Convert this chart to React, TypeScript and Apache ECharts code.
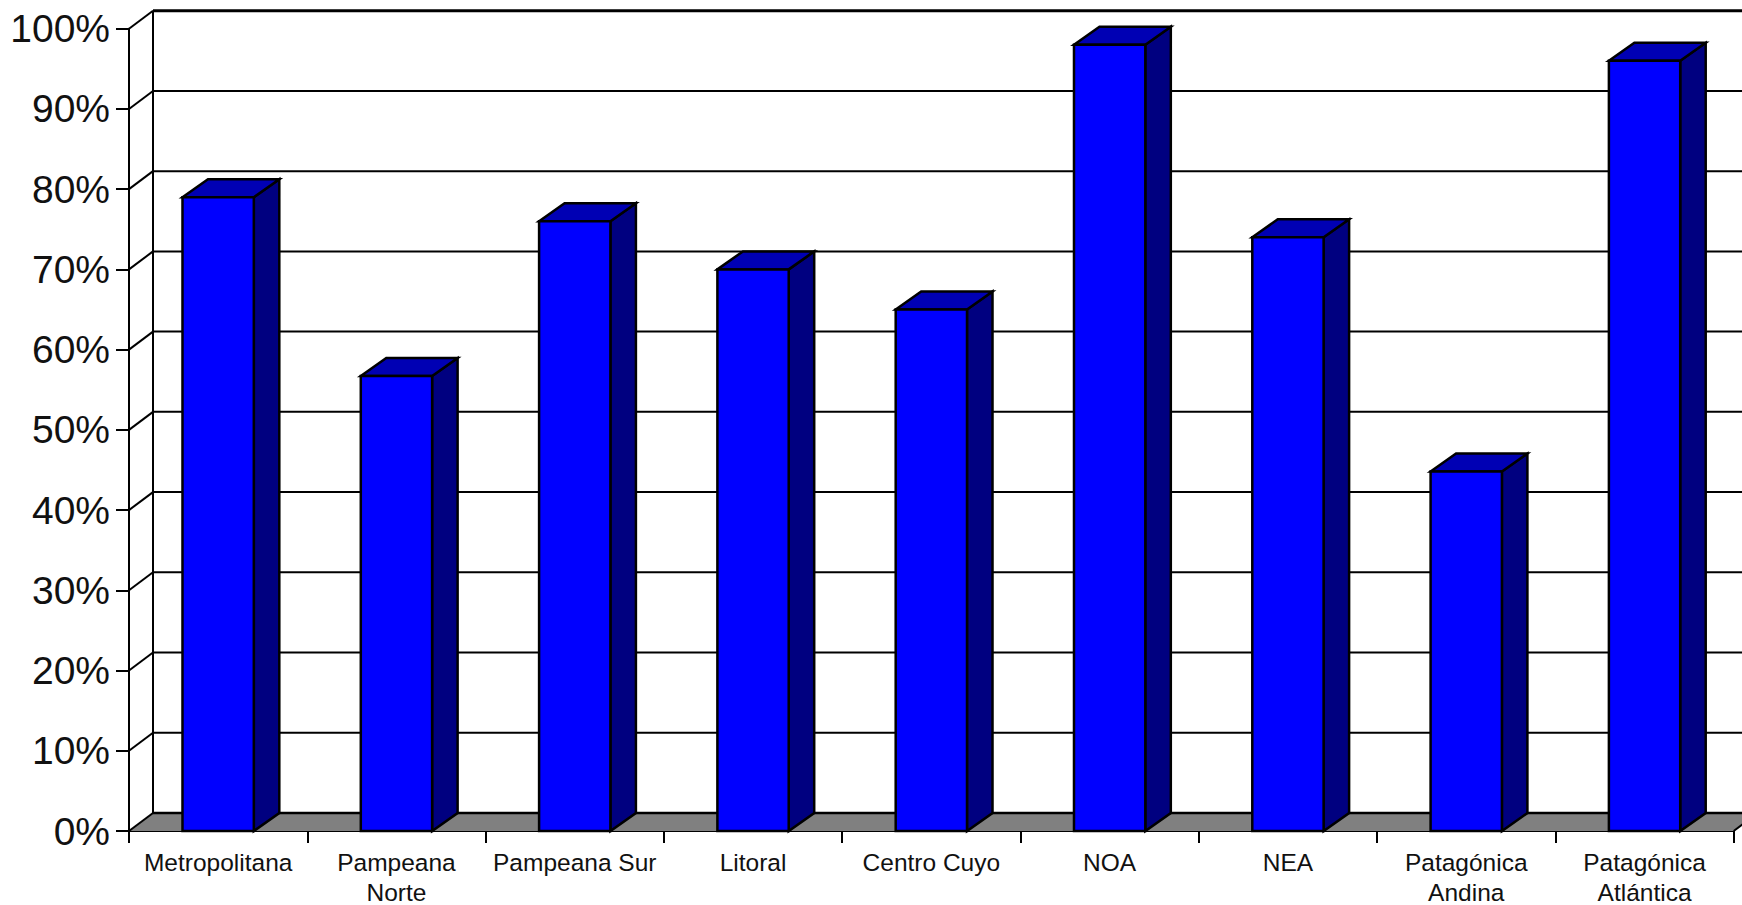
import React, { useEffect, useRef } from "react";
import * as echarts from "echarts";

const categories = [
  "Metropolitana",
  "Pampeana\nNorte",
  "Pampeana Sur",
  "Litoral",
  "Centro Cuyo",
  "NOA",
  "NEA",
  "Patagónica\nAndina",
  "Patagónica\nAtlántica",
];
const percentages = [79, 56.7, 76, 70, 65, 98, 74, 44.8, 96];
const wallTicks = [10, 20, 30, 40, 50, 60, 70, 80, 90, 100];

const DEPTH_X = 24;
const DEPTH_Y = -18;
const BAR_DEPTH_X = 25.5;
const BAR_RATIO = 0.4;
const FONT = '"Liberation Sans", Arial, sans-serif';

export default function App() {
  const ref = useRef<HTMLDivElement>(null);
  useEffect(() => {
    const chart = echarts.init(ref.current!, undefined, { renderer: "svg" });
    chart.setOption({
      animation: false,
      backgroundColor: "#ffffff",
      grid: {
        left: 129,
        top: 28.7,
        width: 1604.7,
        height: 802.3,
        containLabel: false,
        outerBoundsMode: "none",
      },
      xAxis: {
        type: "category",
        data: categories,
        boundaryGap: true,
        axisLine: { show: true, onZero: false, lineStyle: { color: "#000", width: 2 } },
        axisTick: { show: true, alignWithLabel: false, length: 12, lineStyle: { color: "#000", width: 2 } },
        axisLabel: {
          interval: 0,
          hideOverlap: false,
          color: "#111",
          fontFamily: FONT,
          fontSize: 24.5,
          lineHeight: 30,
          margin: 16,
        },
      },
      yAxis: {
        type: "value",
        min: 0,
        max: 100,
        interval: 10,
        splitLine: { show: false },
        axisLine: { show: true, lineStyle: { color: "#000", width: 2 } },
        axisTick: { show: true, length: 13, lineStyle: { color: "#000", width: 2 } },
        axisLabel: {
          formatter: "{value}%",
          color: "#111",
          fontFamily: FONT,
          fontSize: 39,
          margin: 19,
        },
      },
      series: [
        {
          type: "custom",
          name: "Piso",
          z: 1,
          silent: true,
          clip: false,
          data: [[0, 0]],
          renderItem: (params: any, api: any) => {
            const cs = params.coordSys;
            const y0 = api.coord([0, 0])[1];
            const xL = cs.x;
            const xR = cs.x + cs.width;
            return {
              type: "group",
              children: [
                {
                  type: "polygon",
                  shape: {
                    points: [
                      [xL, y0],
                      [xL + DEPTH_X, y0 + DEPTH_Y],
                      [xR + DEPTH_X, y0 + DEPTH_Y],
                      [xR, y0],
                    ],
                  },
                  style: { fill: "#808080", stroke: "none" },
                },
                {
                  type: "line",
                  shape: { x1: xL + DEPTH_X, y1: y0 + DEPTH_Y, x2: xR + DEPTH_X, y2: y0 + DEPTH_Y },
                  style: { stroke: "#000", lineWidth: 2.5 },
                },
                {
                  type: "line",
                  shape: { x1: xL, y1: y0, x2: xL + DEPTH_X, y2: y0 + DEPTH_Y },
                  style: { stroke: "#000", lineWidth: 2 },
                },
                {
                  type: "line",
                  shape: { x1: xR, y1: y0, x2: xR + DEPTH_X, y2: y0 + DEPTH_Y },
                  style: { stroke: "#000", lineWidth: 2 },
                },
                {
                  type: "line",
                  shape: {
                    x1: xL + DEPTH_X,
                    y1: y0 + DEPTH_Y,
                    x2: xL + DEPTH_X,
                    y2: cs.y + DEPTH_Y,
                  },
                  style: { stroke: "#000", lineWidth: 2 },
                },
              ],
            };
          },
        },
        {
          type: "custom",
          name: "Paredes",
          z: 1,
          silent: true,
          clip: false,
          data: wallTicks.map((v) => [0, v]),
          renderItem: (params: any, api: any) => {
            const cs = params.coordSys;
            const value = api.value(1);
            const y = api.coord([0, value])[1];
            const top = value === 100;
            return {
              type: "group",
              children: [
                {
                  type: "line",
                  shape: { x1: cs.x, y1: y, x2: cs.x + DEPTH_X, y2: y + DEPTH_Y },
                  style: { stroke: "#000", lineWidth: 2 },
                },
                {
                  type: "line",
                  shape: {
                    x1: cs.x + DEPTH_X,
                    y1: y + DEPTH_Y,
                    x2: cs.x + cs.width + DEPTH_X,
                    y2: y + DEPTH_Y,
                  },
                  style: { stroke: "#000", lineWidth: top ? 3 : 2 },
                },
              ],
            };
          },
        },
        {
          type: "custom",
          name: "Regiones",
          z: 3,
          clip: false,
          encode: { x: 0, y: 1 },
          data: percentages.map((v, i) => [i, v]),
          renderItem: (_params: any, api: any) => {
            const idx = api.value(0);
            const top = api.coord([idx, api.value(1)]);
            const base = api.coord([idx, 0]);
            const w = api.size([1, 0])[0] * BAR_RATIO;
            const xL = top[0] - w / 2;
            const xR = top[0] + w / 2;
            const stroke = { stroke: "#000", lineWidth: 2.5, lineJoin: "miter" };
            return {
              type: "group",
              children: [
                {
                  type: "polygon",
                  shape: {
                    points: [
                      [xR, top[1]],
                      [xR + BAR_DEPTH_X, top[1] + DEPTH_Y],
                      [xR + BAR_DEPTH_X, base[1] + DEPTH_Y],
                      [xR, base[1]],
                    ],
                  },
                  style: { fill: "#000080", ...stroke },
                },
                {
                  type: "polygon",
                  shape: {
                    points: [
                      [xL, top[1]],
                      [xL + BAR_DEPTH_X, top[1] + DEPTH_Y],
                      [xR + BAR_DEPTH_X, top[1] + DEPTH_Y],
                      [xR, top[1]],
                    ],
                  },
                  style: { fill: "#0000b4", ...stroke },
                },
                {
                  type: "rect",
                  shape: { x: xL, y: top[1], width: w, height: base[1] - top[1] },
                  style: { fill: "#0000ff", ...stroke },
                },
              ],
            };
          },
        },
      ],
    });
    return () => chart.dispose();
  }, []);
  return (
    <div
      ref={ref}
      style={{ position: "absolute", left: 0, top: 0, width: 1742, height: 905, overflow: "hidden" }}
    />
  );
}
